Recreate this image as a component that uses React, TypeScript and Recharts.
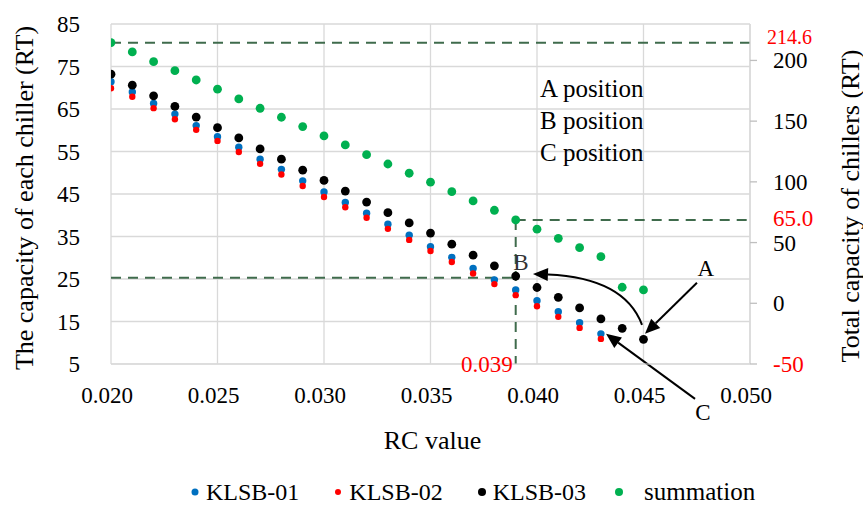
import React from 'react';
import {
  ScatterChart,
  Scatter,
  XAxis,
  YAxis,
  CartesianGrid,
  Legend,
  ReferenceLine,
  ReferenceDot,
} from 'recharts';

// ---------- data ----------
const rcValues = [
  0.02, 0.021, 0.022, 0.023, 0.024, 0.025, 0.026, 0.027, 0.028, 0.029, 0.03, 0.031, 0.032,
  0.033, 0.034, 0.035, 0.036, 0.037, 0.038, 0.039, 0.04, 0.041, 0.042, 0.043, 0.044, 0.045,
];
const klsb01 = [
  71.4, 69.0, 66.3, 63.8, 61.1, 58.5, 56.0, 53.2, 50.8, 48.1, 45.5, 43.0, 40.5, 37.9, 35.3,
  32.6, 30.1, 27.5, 24.8, 22.4, 19.9, 17.3, 14.7, 12.1, null, null,
];
const klsb02 = [
  69.9, 67.9, 65.2, 62.6, 60.1, 57.5, 54.9, 52.1, 49.6, 46.9, 44.3, 41.9, 39.4, 36.8, 34.2,
  31.6, 29.0, 26.3, 23.8, 21.2, 18.6, 16.1, 13.5, 10.9, null, null,
];
const klsb03 = [
  73.2, 70.6, 68.1, 65.6, 63.1, 60.6, 58.2, 55.6, 53.2, 50.6, 48.2, 45.7, 43.1, 40.6, 38.2,
  35.8, 33.2, 30.6, 28.1, 25.7, 23.0, 20.7, 18.2, 15.6, 13.4, 10.8,
];
const summation = [
  214.7, 207.0, 199.0, 191.6, 183.9, 176.3, 168.3, 160.6, 153.2, 145.5, 137.8, 130.4, 122.4,
  114.7, 107.1, 99.7, 91.9, 84.3, 76.6, 68.6, 61.0, 53.5, 45.8, 38.4, 13.2, 11.0,
];

const xTicks = [0.02, 0.025, 0.03, 0.035, 0.04, 0.045, 0.05];
const leftTicks = [5, 15, 25, 35, 45, 55, 65, 75, 85];
const rightTicks = [-50, 0, 50, 100, 150, 200];

const maxTotal = 214.6;
const maxTotalLabel = '214.6';
const bTotal = 68.6;
const bTotalLabel = '65.0';
const bRC = 0.039;
const bRCLabel = '0.039';
const bEach = 25.3;

const positionNotes = ['A position', 'B position', 'C position'];

// ---------- styles ----------
const FONT = "'Liberation Serif', Tinos, 'DejaVu Serif', serif";
const DASH = '#3F6B4C';
const GRID = '#d9d9d9';

const series = [
  { name: 'KLSB-01', values: klsb01, color: '#0070C0', r: 3.7, lr: 3.5, axis: 'left' },
  { name: 'KLSB-02', values: klsb02, color: '#FF0000', r: 3.2, lr: 3, axis: 'left' },
  { name: 'KLSB-03', values: klsb03, color: '#000000', r: 4.4, lr: 4, axis: 'left' },
  { name: 'summation', values: summation, color: '#00B050', r: 4.4, lr: 4, axis: 'right' },
];

const toPoints = (ys: (number | null)[]) =>
  rcValues
    .map((x, i) => ({ x, y: ys[i] }))
    .filter((p) => p.y !== null && p.y !== undefined);

// ---------- arrow shapes ----------
const head = (tx: number, ty: number, ang: number) => {
  const L = 15;
  const W = 6.5;
  const bx = tx - L * Math.cos(ang);
  const by = ty - L * Math.sin(ang);
  const px = -Math.sin(ang);
  const py = Math.cos(ang);
  return {
    bx,
    by,
    pts: `${tx},${ty} ${bx + W * px},${by + W * py} ${bx - W * px},${by - W * py}`,
  };
};

const StraightArrow = (props: any) => {
  const { x1, y1, x2, y2 } = props;
  const ang = Math.atan2(y2 - y1, x2 - x1);
  const h = head(x2, y2, ang);
  return (
    <g>
      <line x1={x1} y1={y1} x2={h.bx} y2={h.by} stroke="#000" strokeWidth={2} />
      <polygon points={h.pts} fill="#000" />
    </g>
  );
};

const CurvedArrow = (props: any) => {
  const { x1, y1, x2, y2 } = props;
  const cx = x1 + (x2 - x1) * 0.16;
  const cy = y2 + (y1 - y2) * 0.08;
  const ang = Math.atan2(y2 - cy, x2 - cx);
  const h = head(x2, y2, ang);
  return (
    <g>
      <path
        d={`M${x1},${y1} Q${cx},${cy} ${h.bx},${h.by}`}
        fill="none"
        stroke="#000"
        strokeWidth={2}
      />
      <polygon points={h.pts} fill="#000" />
    </g>
  );
};

// ---------- ticks / labels ----------
const RightTick = (props: any) => {
  const { x, y, payload } = props;
  const v = payload.value;
  return (
    <text
      x={x}
      y={y}
      dy="0.35em"
      textAnchor="start"
      style={{ fontFamily: FONT }}
      fontSize={23}
      fill={v === -50 ? '#FF0000' : '#000'}
    >
      {String(v)}
    </text>
  );
};

const LeftTitle = (props: any) => {
  const vb = props.viewBox;
  const x = vb.x + 24;
  const y = vb.y + vb.height / 2 + 4;
  return (
    <text
      x={x}
      y={y}
      transform={`rotate(-90, ${x}, ${y})`}
      textAnchor="middle"
      dominantBaseline="central"
      style={{ fontFamily: FONT }}
      fontSize={26}
      fill="#000"
    >
      The capacity of each chiller (RT)
    </text>
  );
};

const RightTitle = (props: any) => {
  const vb = props.viewBox;
  const x = vb.x + 100;
  const y = vb.y + vb.height / 2 + 12;
  return (
    <text
      x={x}
      y={y}
      transform={`rotate(-90, ${x}, ${y})`}
      textAnchor="middle"
      dominantBaseline="central"
      style={{ fontFamily: FONT }}
      fontSize={26}
      fill="#000"
    >
      Total capacity of chillers (RT)
    </text>
  );
};

const BottomTitle = (props: any) => {
  const vb = props.viewBox;
  return (
    <text
      x={vb.x + vb.width / 2 + 2}
      y={vb.y + 76}
      textAnchor="middle"
      dominantBaseline="central"
      style={{ fontFamily: FONT }}
      fontSize={26}
      fill="#000"
    >
      RC value
    </text>
  );
};

const renderLegend = () => (
  <div
    style={{
      display: 'flex',
      alignItems: 'center',
      paddingLeft: 190,
      fontFamily: FONT,
      fontSize: 24,
      color: '#000',
      lineHeight: '28px',
    }}
  >
    {series.map((s) => (
      <div
        key={s.name}
        style={{ display: 'flex', alignItems: 'center', marginRight: s.name === 'KLSB-03' ? 28 : 34 }}
      >
        <svg width={10} height={10} style={{ display: 'block' }}>
          <circle cx={5} cy={5} r={s.lr} fill={s.color} />
        </svg>
        <span style={{ marginLeft: s.name === 'summation' ? 20 : 6, fontSize: s.name === 'summation' ? 25 : 24 }}>
          {s.name}
        </span>
      </div>
    ))}
  </div>
);

const textLabel = (value: string, position: any, extra: any = {}) => ({
  value,
  position,
  style: { fontFamily: FONT },
  fontSize: 23,
  fill: '#000',
  ...extra,
});

const tickStyle = { fill: '#000', fontSize: 23, style: { fontFamily: FONT } };

export default function App() {
  return (
    <div style={{ position: 'absolute', left: 0, top: 0, background: '#fff', fontFamily: FONT }}>
      <ScatterChart
        width={863}
        height={507}
        margin={{ top: 24, right: 0, bottom: 0, left: 0 }}
        style={{ fontFamily: FONT }}
      >
        <CartesianGrid yAxisId="left" stroke={GRID} strokeWidth={1.3} />
        <XAxis
          type="number"
          dataKey="x"
          domain={[0.02, 0.05]}
          ticks={xTicks}
          tickFormatter={(v: number) => v.toFixed(3)}
          height={143}
          axisLine={{ stroke: GRID }}
          tickLine={false}
          tickSize={6}
          tickMargin={17}
          tick={{ ...tickStyle, dx: -4 }}
          allowDataOverflow
          label={<BottomTitle />}
        />
        <YAxis
          yAxisId="left"
          type="number"
          dataKey="y"
          domain={[5, 85]}
          ticks={leftTicks}
          width={111}
          axisLine={false}
          tickLine={false}
          tickSize={6}
          tickMargin={25}
          tick={tickStyle}
          allowDataOverflow
          label={<LeftTitle />}
        />
        <YAxis
          yAxisId="right"
          orientation="right"
          type="number"
          dataKey="y"
          domain={[-50, 230]}
          ticks={rightTicks}
          width={113}
          axisLine={{ stroke: GRID, strokeWidth: 1.3 }}
          tickLine={{ stroke: '#bfbfbf', strokeWidth: 1.3 }}
          tickSize={7}
          tickMargin={16}
          tick={<RightTick />}
          allowDataOverflow
          label={<RightTitle />}
        />

        {series.map((s) => (
          <Scatter
            key={s.name}
            name={s.name}
            data={toPoints(s.values)}
            yAxisId={s.axis}
            fill={s.color}
            isAnimationActive={false}
            shape={(p: any) => <circle cx={p.cx} cy={p.cy} r={s.r} fill={s.color} />}
          />
        ))}

        {/* dashed guide lines */}
        <ReferenceLine
          yAxisId="right"
          y={maxTotal}
          stroke={DASH}
          strokeWidth={2}
          strokeDasharray="10 7"
          ifOverflow="visible"
          label={textLabel(maxTotalLabel, 'right', { fill: '#FF0000', offset: 17, fontSize: 20, dy: -6 })}
        />
        <ReferenceLine
          yAxisId="right"
          segment={[
            { x: bRC, y: bTotal },
            { x: 0.05, y: bTotal },
          ]}
          stroke={DASH}
          strokeWidth={2}
          strokeDasharray="10 7"
          ifOverflow="visible"
          label={textLabel(bTotalLabel, 'right', { fill: '#FF0000', offset: 23, dy: -2 })}
        />
        <ReferenceLine
          yAxisId="right"
          segment={[
            { x: bRC, y: bTotal },
            { x: bRC, y: -50 },
          ]}
          stroke={DASH}
          strokeWidth={2}
          strokeDasharray="10 7"
          ifOverflow="visible"
        />
        <ReferenceLine
          yAxisId="left"
          segment={[
            { x: 0.02, y: bEach },
            { x: bRC, y: bEach },
          ]}
          stroke={DASH}
          strokeWidth={2}
          strokeDasharray="10 7"
          ifOverflow="visible"
        />
        <ReferenceDot
          yAxisId="left"
          x={bRC}
          y={5}
          r={0}
          ifOverflow="visible"
          label={textLabel(bRCLabel, 'left', { fill: '#FF0000', offset: 3 })}
        />

        {/* arrows */}
        <ReferenceLine
          yAxisId="left"
          segment={[
            { x: 0.04751, y: 24.1 },
            { x: 0.04507, y: 12.1 },
          ]}
          ifOverflow="visible"
          shape={<StraightArrow />}
        />
        <ReferenceLine
          yAxisId="left"
          segment={[
            { x: 0.04493, y: 14.2 },
            { x: 0.03981, y: 26.2 },
          ]}
          ifOverflow="visible"
          shape={<CurvedArrow />}
        />
        <ReferenceLine
          yAxisId="left"
          segment={[
            { x: 0.04742, y: -3.2 },
            { x: 0.04324, y: 12.1 },
          ]}
          ifOverflow="visible"
          shape={<StraightArrow />}
        />

        {/* arrow letters */}
        <ReferenceDot yAxisId="left" x={0.04793} y={27.6} r={0} ifOverflow="visible" label={textLabel('A', 'center')} />
        <ReferenceDot yAxisId="left" x={0.03925} y={29.0} r={0} ifOverflow="visible" label={textLabel('B', 'center', { fill: '#333' })} />
        <ReferenceDot yAxisId="left" x={0.04779} y={-6.3} r={0} ifOverflow="visible" label={textLabel('C', 'center')} />

        {/* position notes */}
        {positionNotes.map((t, i) => (
          <ReferenceDot
            key={t}
            yAxisId="left"
            x={0.04014}
            y={69.9 - i * 7.5}
            r={0}
            ifOverflow="visible"
            label={textLabel(t, 'right', { offset: 0, fontSize: 25 })}
          />
        ))}

        <Legend
          layout="horizontal"
          align="center"
          verticalAlign="middle"
          wrapperStyle={{ position: 'absolute', top: 478, left: 0, width: 863 }}
          content={renderLegend}
        />
      </ScatterChart>
    </div>
  );
}
